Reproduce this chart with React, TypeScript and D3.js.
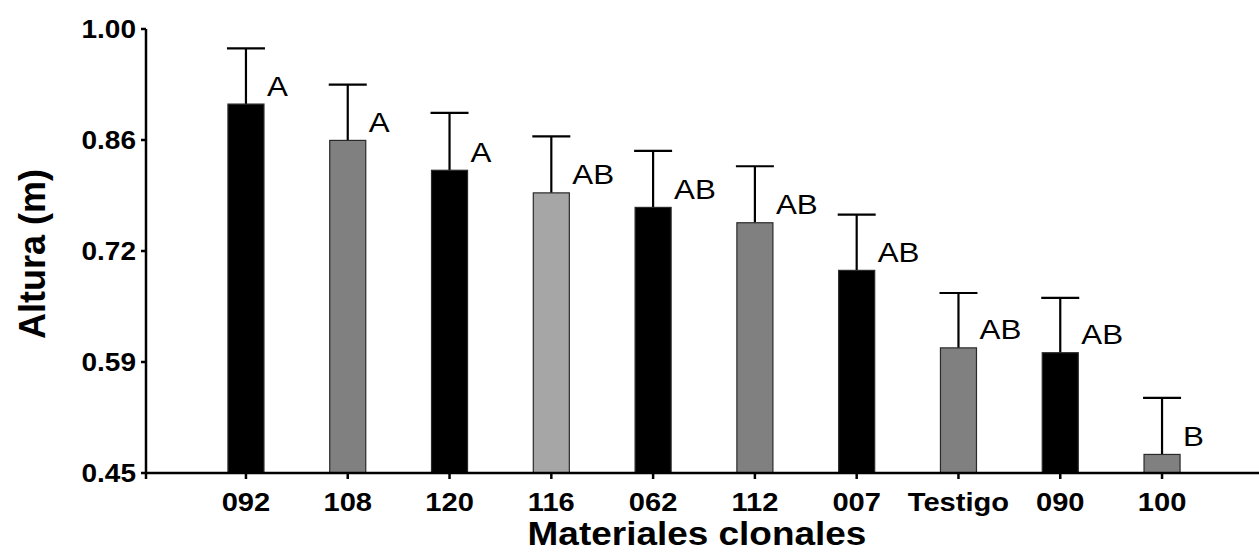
import React from "react";
import * as d3 from "d3";

// clones, ordered by mean height
const categories = ["092", "108", "120", "116", "062", "112", "007", "Testigo", "090", "100"];
const means = [0.907, 0.862, 0.825, 0.797, 0.779, 0.760, 0.701, 0.605, 0.599, 0.473];
const errors = [0.069, 0.069, 0.071, 0.070, 0.070, 0.070, 0.069, 0.068, 0.068, 0.070];
const letters = ["A", "A", "A", "AB", "AB", "AB", "AB", "AB", "AB", "B"];
const fills = ["#000000", "#808080", "#000000", "#a6a6a6", "#000000", "#808080", "#000000", "#808080", "#000000", "#808080"];

const yTicks = [0.45, 0.5875, 0.725, 0.8625, 1.0];
const yTickLabels = ["0.45", "0.59", "0.72", "0.86", "1.00"];

const W = 1259, H = 554;
const axisX = 146, axisY = 473;
const SX = 1.12; // text in the original looks a bit wide

export default function App() {
  const x = d3.scaleBand<string>()
    .domain(categories)
    .range([axisX, 1262])
    .paddingInner(0.646)
    .paddingOuter(0.805);

  const y = d3.scaleLinear().domain([0.45, 1.0]).range([axisY, 29]);

  const bw = x.bandwidth();
  const font = "Arial, 'Liberation Sans', sans-serif";

  const wide = (tx: number, ty: number) => "translate(" + tx + "," + ty + ") scale(" + SX + ",1)";

  return (
    <div style={{ position: "absolute", left: 0, top: 0 }}>
      <svg width={W} height={H} style={{ display: "block", background: "#fff" }} fontFamily={font}>
        {/* bars */}
        {categories.map((c, i) => {
          const x0 = x(c)!;
          const cx = x0 + bw / 2;
          const top = y(means[i]);
          const cap = y(means[i] + errors[i]);
          return (
            <g key={c}>
              <line x1={cx} x2={cx} y1={top} y2={cap} stroke="#000" strokeWidth={2.2} />
              <line x1={cx - 19} x2={cx + 19} y1={cap} y2={cap} stroke="#000" strokeWidth={2.2} />
              <rect x={x0} y={top} width={bw} height={axisY - top} fill={fills[i]} stroke="#2a2a2a" strokeWidth={1.2} />
              <text transform={wide(cx + 21, top - 8.5)} fontSize={28} fill="#000">{letters[i]}</text>
            </g>
          );
        })}

        {/* y axis */}
        <line x1={axisX} x2={axisX} y1={y(1.0)} y2={axisY + 6} stroke="#000" strokeWidth={2.5} />
        {yTicks.map((t, i) => (
          <g key={"yt" + i}>
            <line x1={axisX - 5} x2={axisX} y1={y(t)} y2={y(t)} stroke="#000" strokeWidth={2.5} />
            <text transform={wide(axisX - 10, y(t))} textAnchor="end" dy="0.36em" fontSize={25} fontWeight="bold">
              {yTickLabels[i]}
            </text>
          </g>
        ))}

        {/* x axis */}
        <line x1={axisX - 1} x2={W} y1={axisY} y2={axisY} stroke="#000" strokeWidth={2.5} />
        {categories.map((c) => {
          const cx = x(c)! + bw / 2;
          return (
            <g key={"xt" + c}>
              <line x1={cx} x2={cx} y1={axisY} y2={axisY + 6} stroke="#000" strokeWidth={2.5} />
              <text transform={wide(cx, 511)} textAnchor="middle" fontSize={26} fontWeight="bold">{c}</text>
            </g>
          );
        })}

        {/* axis titles */}
        <text transform={wide(697, 545)} textAnchor="middle" fontSize={33} fontWeight="bold">Materiales clonales</text>
        <text transform={"translate(45,254) rotate(-90)"} textAnchor="middle" fontSize={36} fontWeight="bold">Altura (m)</text>
      </svg>
    </div>
  );
}
